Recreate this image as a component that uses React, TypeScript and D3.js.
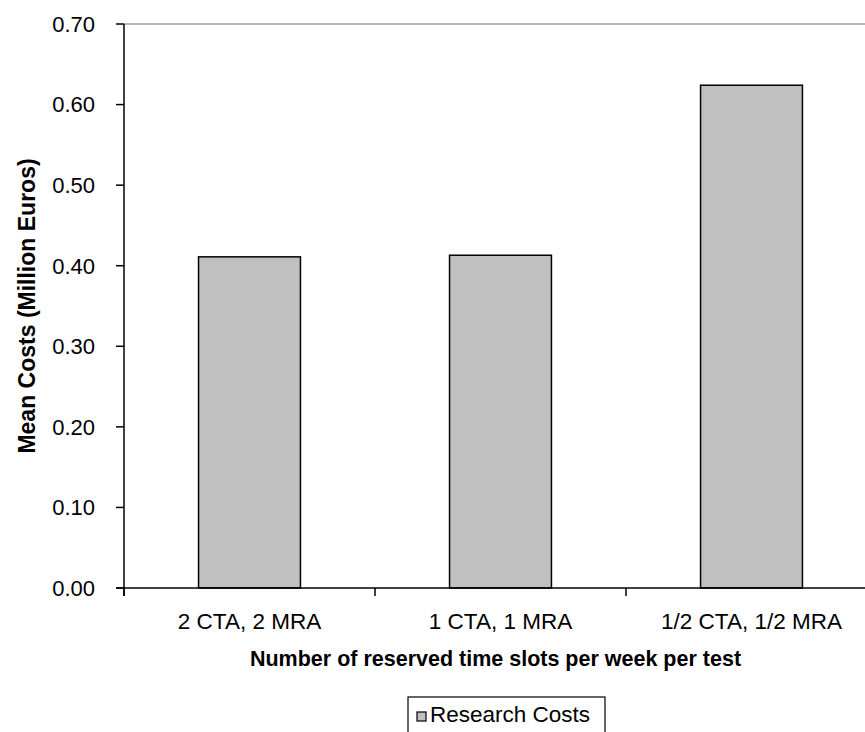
import React from "react";
import * as d3 from "d3";

const categories = ["2 CTA, 2 MRA", "1 CTA, 1 MRA", "1/2 CTA, 1/2 MRA"];
const researchCosts = [0.411, 0.413, 0.624];
const yTicks = [0, 0.1, 0.2, 0.3, 0.4, 0.5, 0.6, 0.7];
const seriesName = "Research Costs";
const xTitle = "Number of reserved time slots per week per test";
const yTitle = "Mean Costs (Million Euros)";

const W = 865;
const H = 732;
const left = 124;
const right = 877;
const top = 24;
const bottom = 588;

export default function App() {
  const x = d3.scaleBand<string>().domain(categories).range([left, right]).padding(0);
  const y = d3.scaleLinear().domain([0, 0.7]).range([bottom, top]);
  const barW = x.bandwidth() * 0.406;
  const font = "Arial, 'Liberation Sans', sans-serif";

  return (
    <svg width={W} height={H} style={{ position: "absolute", left: 0, top: 0 }} fontFamily={font}>
      <rect x={0} y={0} width={W} height={H} fill="#fff" />
      {/* top border */}
      <line x1={left} x2={W} y1={y(0.7)} y2={y(0.7)} stroke="#a0a0a0" strokeWidth={1.5} />
      {/* bars */}
      {categories.map((c, i) => {
        const cx = (x(c) as number) + x.bandwidth() / 2;
        return (
          <rect
            key={c}
            x={cx - barW / 2}
            y={y(researchCosts[i])}
            width={barW}
            height={y(0) - y(researchCosts[i])}
            fill="#c0c0c0"
            stroke="#000"
            strokeWidth={1.5}
          />
        );
      })}
      {/* y axis */}
      <line x1={left} x2={left} y1={y(0.7)} y2={y(0) + 8} stroke="#000" strokeWidth={1.5} />
      {yTicks.map((t) => (
        <g key={t}>
          <line x1={left - 8} x2={left} y1={y(t)} y2={y(t)} stroke="#000" strokeWidth={1.5} />
          <text x={95} y={y(t)} dy="0.36em" textAnchor="end" fontSize={22} fill="#000">
            {d3.format(".2f")(t)}
          </text>
        </g>
      ))}
      {/* x axis */}
      <line x1={left - 8} x2={W} y1={y(0)} y2={y(0)} stroke="#000" strokeWidth={1.5} />
      {categories.map((c) => (
        <line key={"t" + c} x1={x(c) as number} x2={x(c) as number} y1={y(0)} y2={y(0) + 8} stroke="#000" strokeWidth={1.5} />
      ))}
      {categories.map((c) => (
        <text
          key={"l" + c}
          x={(x(c) as number) + x.bandwidth() / 2}
          y={629}
          textAnchor="middle"
          fontSize={22.5}
          fill="#000"
        >
          {c}
        </text>
      ))}
      {/* titles */}
      <text x={(left + right) / 2 - 5} y={666} textAnchor="middle" fontSize={21.5} fontWeight="bold" fill="#000">
        {xTitle}
      </text>
      <text
        transform={`translate(35, ${(top + bottom) / 2}) rotate(-90)`}
        textAnchor="middle"
        fontSize={23}
        fontWeight="bold"
        fill="#000"
      >
        {yTitle}
      </text>
      {/* legend */}
      <rect x={408} y={697} width={197} height={50} fill="#fff" stroke="#000" strokeWidth={1.2} />
      <rect x={417} y={712} width={9} height={9} fill="#c0c0c0" stroke="#000" strokeWidth={1.2} />
      <text x={430} y={722} fontSize={22.5} fill="#000">
        {seriesName}
      </text>
    </svg>
  );
}
